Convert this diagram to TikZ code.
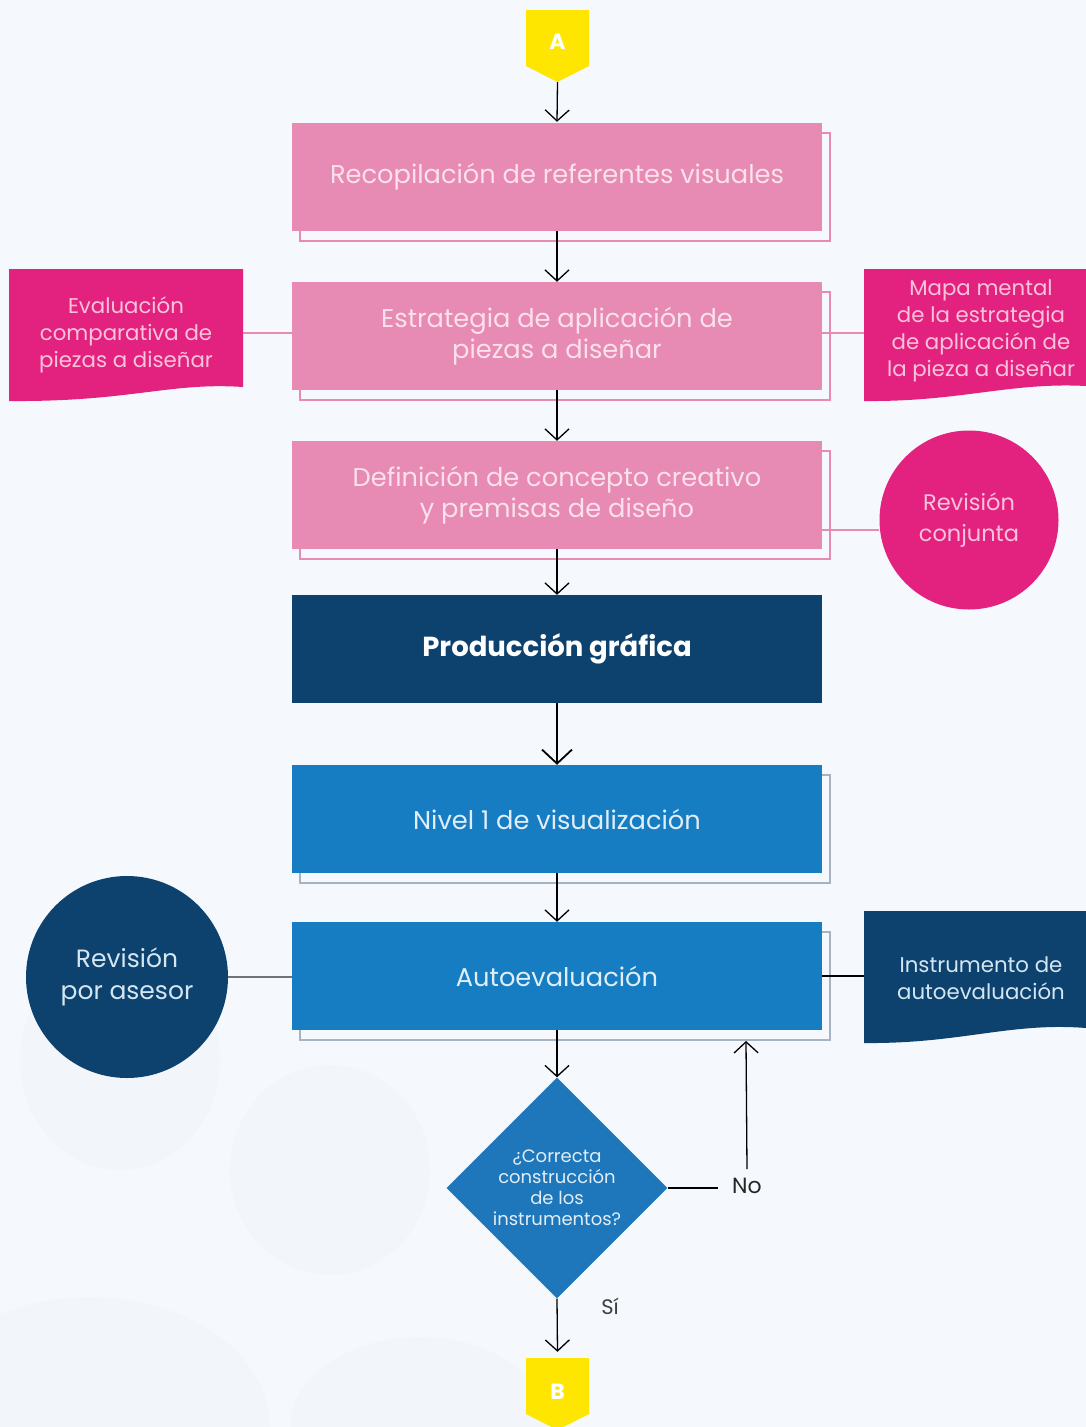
\documentclass[tikz,border=0pt]{standalone}
\usepackage{fontspec}
\setmainfont{Poppins}
\usetikzlibrary{arrows.meta,shapes.geometric,shadows}

\definecolor{bgc}{HTML}{F5F8FC}
\definecolor{blobc}{HTML}{E9EDF2}
\definecolor{pinkbox}{HTML}{E78AB4}
\definecolor{pinktxt}{HTML}{FBE1EC}
\definecolor{docpink}{HTML}{E3227F}
\definecolor{docpinktxt}{HTML}{F9C3DB}
\definecolor{navy}{HTML}{0E426E}
\definecolor{navytxt}{HTML}{D3E6F2}
\definecolor{bluebox}{HTML}{177DC2}
\definecolor{bluetxt}{HTML}{E1EEF8}
\definecolor{diamondc}{HTML}{1E77BA}
\definecolor{tagyellow}{HTML}{FFE600}
\definecolor{greyshadow}{HTML}{A6B3C0}

\tikzset{
  stepbox/.style={rectangle, minimum width=530pt, minimum height=108pt,
    inner sep=0pt, align=center, font=\fontsize{25.7}{31}\selectfont},
  pinkstep/.style={stepbox, fill=pinkbox, text=pinktxt,
    copy shadow={shadow xshift=8pt, shadow yshift=-10pt, fill=none,
      draw=pinkbox, line width=2pt}},
  bluestep/.style={stepbox, fill=bluebox, text=bluetxt,
    copy shadow={shadow xshift=8pt, shadow yshift=-10pt, fill=none,
      draw=greyshadow, line width=2pt}},
  navystep/.style={stepbox, fill=navy, text=white,
    font=\fontsize{27.5}{31}\selectfont\bfseries},
  doctext/.style={rectangle, inner sep=0pt, align=center,
    font=\fontsize{21.3}{27}\selectfont},
  roundnote/.style={circle, inner sep=0pt, align=center,
    font=\fontsize{22.5}{31}\selectfont},
  tagtext/.style={rectangle, inner sep=0pt, minimum width=63pt,
    text=white, font=\fontsize{22}{22}\selectfont\bfseries},
  flow/.style={draw=black, line width=1.3pt,
    -{Straight Barb[length=11pt, width=24pt, line width=1.3pt]}},
  bigflow/.style={draw=black, line width=1.8pt,
    -{Straight Barb[length=14pt, width=30pt, line width=1.8pt]}},
  plainline/.style={draw=black, line width=1.3pt},
}

\begin{document}
\begin{tikzpicture}[x=1pt, y=-1pt]
  % page background with soft shapes
  \fill[bgc] (0,0) rectangle (1086,1427);
  \useasboundingbox (0,0) rectangle (1086,1427);
  \fill[blobc, opacity=0.22] (120,1060) ellipse (100pt and 110pt);
  \fill[blobc, opacity=0.22] (330,1170) ellipse (100pt and 105pt);
  \fill[blobc, opacity=0.18] (90,1427) ellipse (180pt and 130pt);
  \fill[blobc, opacity=0.18] (420,1427) ellipse (130pt and 90pt);

  % connector tags
  \fill[tagyellow] (526,10) -- (589,10) -- (589,66) -- (557.5,82) -- (526,66) -- cycle;
  \node[tagtext, minimum height=80pt] (tagA) at (557.5,42) {A};
  \fill[tagyellow] (526,1358) -- (589,1358) -- (589,1414) -- (557.5,1430) -- (526,1414) -- cycle;
  \node[tagtext, minimum height=68pt] (tagB) at (557.5,1392) {B};

  % main steps
  \node[pinkstep] (s1) at (557,177) {Recopilación de referentes visuales};
  \node[pinkstep] (s2) at (557,336) {Estrategia de aplicación de\\piezas a diseñar};
  \node[pinkstep] (s3) at (557,495) {Definición de concepto creativo\\y premisas de diseño};
  \node[navystep] (s4) at (557,649) {Producción gráfica};
  \node[bluestep] (s5) at (557,819) {Nivel 1 de visualización};
  \node[bluestep] (s6) at (557,976) {Autoevaluación};

  % decision
  \node[diamond, aspect=1, minimum width=221pt, minimum height=221pt, inner sep=0pt,
        fill=diamondc, text=bluetxt, align=center,
        font=\fontsize{18}{21}\selectfont] (dec) at (557,1188)
        {¿Correcta\\construcción\\de los\\instrumentos?};

  % side documents (wavy lower edge)
  \fill[docpink] (9,269) -- (243,269) -- (243,387)
     .. controls (170,382) and (130,402) .. (9,401) -- cycle;
  \node[doctext, text=docpinktxt, minimum width=234pt, minimum height=132pt]
     (ev) at (126,335) {Evaluación\\comparativa de\\piezas a diseñar};

  \fill[docpink] (864,269) -- (1086,269) -- (1086,386)
     .. controls (1010,382) and (960,402) .. (864,401) -- cycle;
  \node[doctext, text=docpinktxt, minimum width=222pt, minimum height=132pt]
     (mm) at (975,335) {};
  \node[doctext, text=docpinktxt] (mmtext) at (981,331)
     {Mapa mental\\de la estrategia\\de aplicación de\\la pieza a diseñar};

  \fill[navy] (864,911) -- (1086,911) -- (1086,1028)
     .. controls (1010,1022) and (960,1044) .. (864,1043) -- cycle;
  \node[doctext, text=navytxt, minimum width=222pt, minimum height=132pt]
     (ins) at (975,975) {};
  \node[doctext, text=navytxt] (instext) at (981,978)
     {Instrumento de\\autoevaluación};

  % round notes
  \node[roundnote, fill=docpink, text=docpinktxt, minimum size=179pt]
     (rc) at (969,520) {Revisión\\conjunta};
  \node[roundnote, fill=navy, text=navytxt, minimum size=202pt, font=\fontsize{25}{32}\selectfont]
     (ra) at (127,977) {Revisión\\por asesor};

  % labels
  \node[font=\fontsize{22}{22}\selectfont, text=black!85, inner sep=0pt] (no) at (747,1186) {No};
  \node[font=\fontsize{21}{21}\selectfont, text=black!75, inner sep=0pt] (si) at (610,1306) {Sí};
  \coordinate (back) at (746,1041);

  % main flow
  \draw[flow] (tagA.south) -- ([yshift=1pt]s1.north);
  \draw[flow] (s1.south) -- (s2.north);
  \draw[flow] (s2.south) -- (s3.north);
  \draw[flow] (s3.south) -- (s4.north);
  \draw[bigflow] (s4.south) -- (s5.north);
  \draw[flow] (s5.south) -- (s6.north);
  \draw[flow] (s6.south) -- (dec.north);
  \draw[flow] (dec.south) -- ([yshift=6pt]tagB.north);

  % "No" loop back
  \draw[plainline] (dec.east) -- ([xshift=-14pt]no.west |- dec.east);
  \draw[flow] ([yshift=9pt]no.north) -- (back);

  % side links
  \draw[draw=pinkbox, line width=1.5pt] ([yshift=3pt]s2.west) -- ([yshift=3pt]s2.west -| ev.east);
  \draw[draw=pinkbox, line width=1.5pt] ([yshift=3pt]s2.east) -- ([yshift=3pt]s2.east -| mm.west);
  \path ([yshift=-35pt]s3.east) coordinate (s3link);
  \draw[draw=pinkbox, line width=1.5pt] (s3link) -- (s3link -| rc.west);
  \draw[draw=black!55, line width=1.5pt] (ra.east) -- (ra.east -| s6.west);
  \draw[plainline] (s6.east) -- (s6.east -| ins.west);
\end{tikzpicture}
\end{document}
